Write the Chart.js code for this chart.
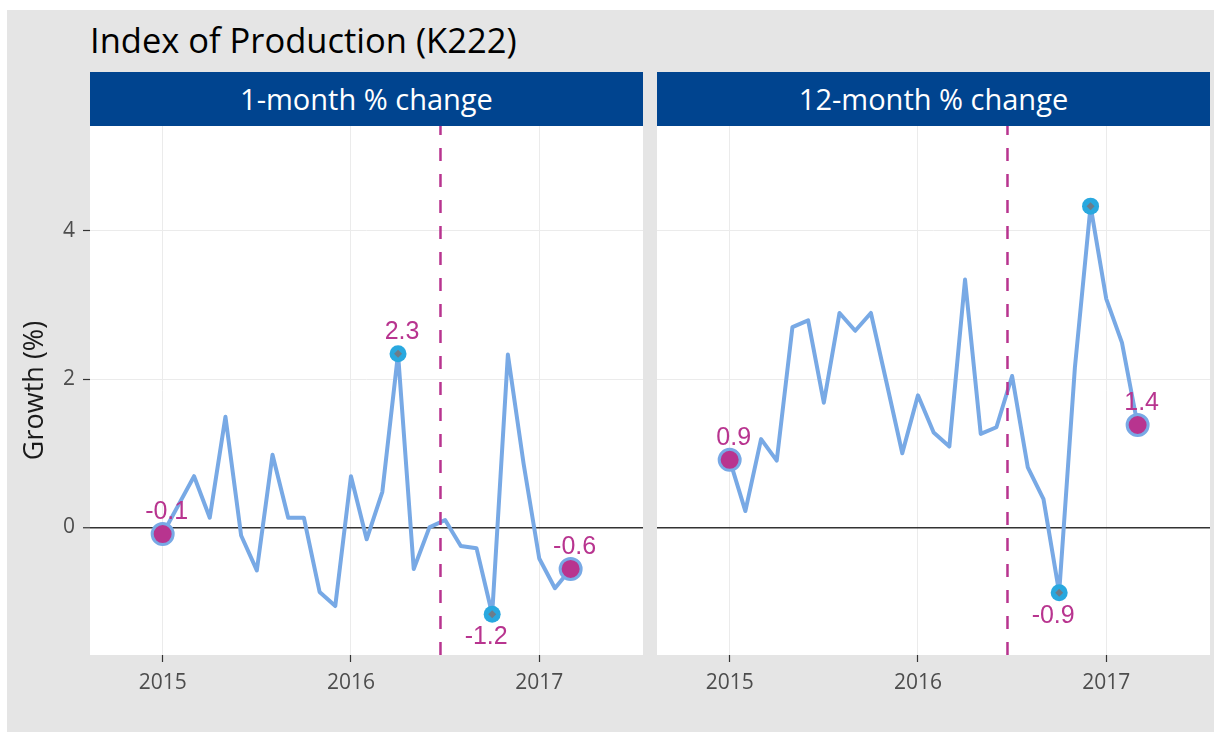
<!DOCTYPE html>
<html lang="en">
<head>
<meta charset="UTF-8" />
<title>Index of Production (K222)</title>
<style>
  body{margin:0;background:#fff;font-family:'Open Sans',sans-serif}
  #frame{position:absolute;left:7px;top:10px;width:1207px;height:722px;background:#e5e5e5}
  #title{position:absolute;left:83px;top:9px;margin:0;font-weight:normal;font-size:34.5px;line-height:42px;color:#000}
  .strip{position:absolute;top:62px;width:553px;height:54px;background:#00448f;color:#fff;font-size:29px;line-height:54px;text-align:center}
  canvas{position:absolute;top:116px}
</style>
<script src="https://cdn.jsdelivr.net/npm/chart.js"></script>
</head>
<body>
<div id="frame">
  <h1 id="title">Index of Production (K222)</h1>
  <div class="strip" style="left:83px">1-month % change</div>
  <div class="strip" style="left:650px">12-month % change</div>
  <canvas id="c1" width="636" height="606" style="left:0"></canvas>
  <canvas id="c12" width="557" height="606" style="left:650px"></canvas>
</div>
<script>
const months = ['2015-01','2015-02','2015-03','2015-04','2015-05','2015-06','2015-07','2015-08','2015-09','2015-10','2015-11','2015-12',
  '2016-01','2016-02','2016-03','2016-04','2016-05','2016-06','2016-07','2016-08','2016-09','2016-10','2016-11','2016-12',
  '2017-01','2017-02','2017-03'];
const change1m = [-0.09,0.30,0.69,0.13,1.49,-0.11,-0.58,0.98,0.13,0.13,-0.87,-1.06,
  0.69,-0.16,0.48,2.34,-0.56,0.00,0.10,-0.25,-0.28,-1.17,2.33,0.86,
  -0.42,-0.82,-0.56];
const change12m = [0.91,0.22,1.19,0.90,2.70,2.79,1.68,2.89,2.65,2.89,1.95,1.00,
  1.78,1.28,1.09,3.34,1.26,1.35,2.04,0.81,0.38,-0.88,2.15,4.33,
  3.08,2.49,1.38];
const labelled1m = ['2015-01','2016-04','2016-10','2017-03'];
const labelled12m = ['2015-01','2016-10','2017-03'];
const yearTicks = [2015, 2016, 2017];
const growthTicks = [0, 2, 4];
const refDate = '2016-06-23';
const xRange = [2014.614, 2017.551];
const yRange = [-1.72, 5.41];

const LINE = '#78a9e5', MAG = '#b8348f', CYAN = '#29a8df';
Chart.defaults.font.family = "'Open Sans', sans-serif";
Chart.defaults.animation = false;

function toX(m){ const [y,mo] = m.split('-').map(Number); return y + (mo-1)/12; }
function dateX(s){
  const d = new Date(s+'T00:00:00Z'), y = d.getUTCFullYear();
  const start = Date.UTC(y,0,1), end = Date.UTC(y+1,0,1);
  return y + (d - start)/(end - start);
}

const whiteArea = {
  id:'whiteArea',
  beforeDraw(chart){
    const {ctx, chartArea:a} = chart;
    ctx.save(); ctx.fillStyle='#fff'; ctx.fillRect(a.left,a.top,a.right-a.left,a.bottom-a.top); ctx.restore();
  }
};

function noPad(s){ s.paddingTop = 0; s.paddingBottom = 0; s.paddingLeft = 0; s.paddingRight = 0; }

function makeChart(id, values, labelled, withAxis){
  const pts = months.map((m,i)=>({x:toX(m), y:values[i]}));
  const iMax = values.indexOf(Math.max(...values));
  const iMin = values.indexOf(Math.min(...values));
  const rx = dateX(refDate);

  const textPlugin = {
    id:'pointText',
    afterDatasetsDraw(chart){
      const {ctx, scales:{x,y}} = chart;
      ctx.save();
      ctx.font = "25px 'Liberation Sans', sans-serif";
      ctx.fillStyle = MAG; ctx.textAlign='center'; ctx.textBaseline='middle';
      labelled.forEach(m=>{
        const i = months.indexOf(m);
        const below = i===iMin;
        const px = x.getPixelForValue(pts[i].x), py = y.getPixelForValue(values[i]);
        ctx.fillText(values[i].toFixed(1), px + (below?-6:4), py + (below?23:-22));
      });
      ctx.restore();
    }
  };

  new Chart(document.getElementById(id), {
    type:'line',
    data:{datasets:[
      {data:[pts[iMax],pts[iMin]], showLine:false, pointStyle:'rectRot', pointRadius:4, pointBackgroundColor:'#6e7c89', pointBorderWidth:0},
      {data:[pts[iMax],pts[iMin]], showLine:false, pointRadius:8.5, pointBackgroundColor:CYAN, pointBorderWidth:0},
      {data:[pts[0],pts[pts.length-1]], showLine:false, pointRadius:10.5, pointBackgroundColor:MAG, pointBorderColor:LINE, pointBorderWidth:3},
      {data:[{x:rx,y:yRange[0]},{x:rx,y:yRange[1]}], borderColor:MAG, borderWidth:2.5, borderDash:[13,13], pointRadius:0},
      {data:pts, borderColor:LINE, borderWidth:4, borderJoinStyle:'round', borderCapStyle:'round', pointRadius:0, tension:0}
    ]},
    options:{
      responsive:false,
      layout:{autoPadding:false, padding:{left:0,right:withAxis?0:4,top:0,bottom:0}},
      plugins:{legend:{display:false}, tooltip:{enabled:false}},
      scales:{
        x:{type:'linear', min:xRange[0], max:xRange[1],
          afterBuildTicks:s=>{ s.ticks = yearTicks.map(v=>({value:v})); },
          afterFit:s=>{ s.height = 77; noPad(s); },
          border:{display:false},
          grid:{color:'#ebebeb', lineWidth:1, tickColor:'#333', tickLength:7, tickWidth:1.2},
          ticks:{autoSkip:false, maxRotation:0, padding:8, color:'#4d4d4d', font:{size:21}, callback:v=>String(v)}
        },
        y:{type:'linear', min:yRange[0], max:yRange[1],
          afterBuildTicks:s=>{ s.ticks = growthTicks.map(v=>({value:v})); },
          afterFit:s=>{ s.width = withAxis ? 83 : 0; noPad(s); },
          border:{display:false},
          grid:{
            color:c=>c.tick && c.tick.value===0 ? '#333' : '#ebebeb',
            lineWidth:c=>c.tick && c.tick.value===0 ? 1.5 : 1,
            drawTicks:withAxis, tickColor:'#333', tickLength:7, tickWidth:1.2
          },
          ticks:{display:withAxis, padding:8, color:'#4d4d4d', font:{size:21}, callback:v=>String(v)},
          title:{display:withAxis, text:'Growth (%)', color:'#1a1a1a', font:{size:27}, padding:{top:12,bottom:0}}
        }
      }
    },
    plugins:[whiteArea, textPlugin]
  });
}

makeChart('c1', change1m, labelled1m, true);
makeChart('c12', change12m, labelled12m, false);
</script>
</body>
</html>
